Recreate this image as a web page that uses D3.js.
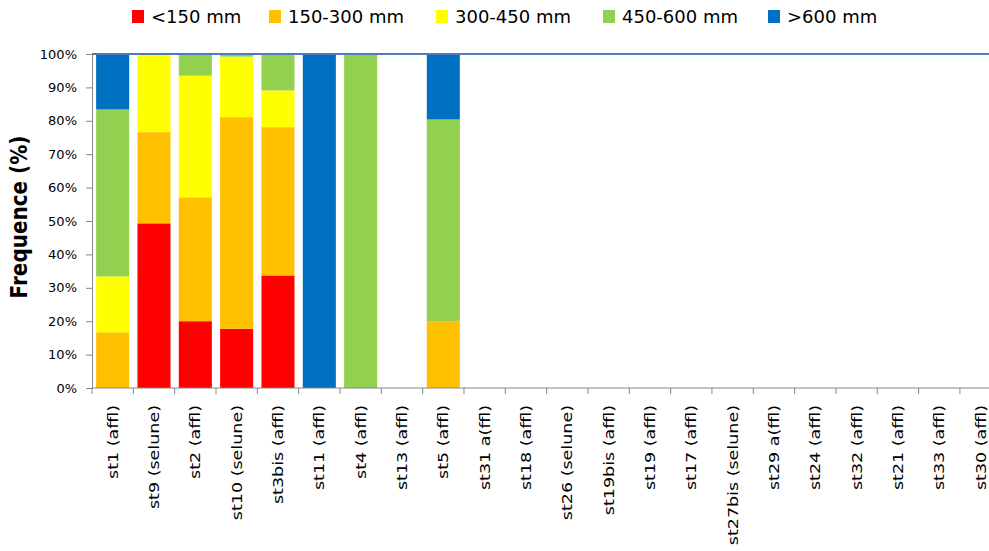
<!DOCTYPE html>
<html>
<head>
<meta charset="utf-8">
<script src="https://cdn.jsdelivr.net/npm/d3@7/dist/d3.min.js"></script>
<style>
  html, body { margin: 0; padding: 0; background: #fff; }
  svg { display: block; font-family: "DejaVu Sans", sans-serif; }
</style>
</head>
<body>
<svg id="chart" width="989" height="551"></svg>
<script>
// Stations (x axis)
const categories = [
  "st1 (affl)", "st9 (selune)", "st2 (affl)", "st10 (selune)", "st3bis (affl)",
  "st11 (affl)", "st4 (affl)", "st13 (affl)", "st5 (affl)", "st31 a(ffl)",
  "st18 (affl)", "st26 (selune)", "st19bis (affl)", "st19 (affl)", "st17 (affl)",
  "st27bis (selune)", "st29 a(ffl)", "st24 (affl)", "st32 (affl)", "st21 (affl)",
  "st33 (affl)", "st30 (affl)"
];

// Size classes
const seriesNames = ["<150 mm", "150-300 mm", "300-450 mm", "450-600 mm", ">600 mm"];
const seriesColors = ["#FF0000", "#FFC000", "#FFFF00", "#92D050", "#0070C0"];

// Frequency (%) per class and station
const lt150    = [0,    49.3, 20.0, 17.7, 33.7, 0,   0,   0, 0,    0,0,0,0,0,0,0,0,0,0,0,0,0];
const s150_300 = [16.7, 27.3, 37.1, 63.4, 44.4, 0,   0,   0, 20.0, 0,0,0,0,0,0,0,0,0,0,0,0,0];
const s300_450 = [16.7, 23.4, 36.4, 18.1, 11.0, 0,   0,   0, 0,    0,0,0,0,0,0,0,0,0,0,0,0,0];
const s450_600 = [50.0, 0,    6.5,  0.8,  10.9, 0,   100, 0, 60.4, 0,0,0,0,0,0,0,0,0,0,0,0,0];
const gt600    = [16.6, 0,    0,    0,    0,    100, 0,   0, 19.6, 0,0,0,0,0,0,0,0,0,0,0,0,0];

const yTicks = [0, 10, 20, 30, 40, 50, 60, 70, 80, 90, 100];

const seriesValues = [lt150, s150_300, s300_450, s450_600, gt600];
const rows = categories.map((c, i) => {
  const r = { cat: c };
  seriesNames.forEach((s, k) => { r[s] = seriesValues[k][i]; });
  return r;
});

const svg = d3.select("#chart");
const plotLeft = 92, plotTop = 54, plotBottom = 388;
const step = 41.33;
const plotRight = plotLeft + step * categories.length;

const x = d3.scaleBand()
  .domain(categories)
  .range([plotLeft, plotRight])
  .paddingInner(0.2)
  .paddingOuter(0.1);

const y = d3.scaleLinear().domain([0, 100]).range([plotBottom, plotTop]);
const color = d3.scaleOrdinal().domain(seriesNames).range(seriesColors);

const stacked = d3.stack().keys(seriesNames)(rows);

// Bars
svg.append("g").selectAll("g")
  .data(stacked)
  .join("g")
  .attr("fill", d => color(d.key))
  .selectAll("rect")
  .data(d => d.filter(p => p[1] - p[0] > 0))
  .join("rect")
  .attr("x", d => x(d.data.cat))
  .attr("width", x.bandwidth())
  .attr("y", d => y(d[1]))
  .attr("height", d => y(d[0]) - y(d[1]));

// 100% line
svg.append("line")
  .attr("x1", plotLeft).attr("x2", plotRight)
  .attr("y1", y(100)).attr("y2", y(100))
  .attr("stroke", "#4A7EBB").attr("stroke-width", 2);

// Y axis
const yAxis = svg.append("g")
  .attr("transform", `translate(${plotLeft},0)`)
  .call(d3.axisLeft(y).tickValues(yTicks).tickFormat(d => d + "%").tickSize(6).tickPadding(9));
yAxis.select(".domain").attr("stroke", "#868686");
yAxis.selectAll(".tick line").attr("stroke", "#868686");
yAxis.selectAll(".tick text")
  .attr("font-family", "DejaVu Sans")
  .attr("font-size", 13)
  .attr("fill", "#000");

// X axis line and boundary ticks
svg.append("line")
  .attr("x1", plotLeft).attr("x2", plotRight)
  .attr("y1", plotBottom).attr("y2", plotBottom)
  .attr("stroke", "#868686");

const bounds = categories.map(c => x(c) - x.step() * x.paddingInner() / 2);
bounds.push(plotRight);
svg.append("g").selectAll("line")
  .data(bounds)
  .join("line")
  .attr("x1", d => d).attr("x2", d => d)
  .attr("y1", plotBottom).attr("y2", plotBottom + 6)
  .attr("stroke", "#868686");

// X labels (rotated, glyphs slightly condensed across the band)
svg.append("g").selectAll("text")
  .data(categories)
  .join("text")
  .attr("transform", d => `translate(${x(d) + x.bandwidth() / 2},${plotBottom + 17}) rotate(-90) scale(1,0.82)`)
  .attr("text-anchor", "end")
  .attr("dy", "0.35em")
  .attr("font-size", 17.5)
  .attr("fill", "#000")
  .text(d => d);

// Y title
svg.append("text")
  .attr("transform", `translate(27,${(plotTop + plotBottom) / 2 - 4}) scale(1.15,1) rotate(-90)`)
  .attr("text-anchor", "middle")
  .attr("font-size", 20)
  .attr("font-weight", "bold")
  .attr("fill", "#000")
  .text("Frequence (%)");

// Legend
const legendX = [132, 269, 436, 603, 768];
const legend = svg.append("g").selectAll("g")
  .data(seriesNames)
  .join("g")
  .attr("transform", (d, i) => `translate(${legendX[i]},10)`);
legend.append("rect")
  .attr("width", 12).attr("height", 13)
  .attr("fill", d => color(d));
legend.append("text")
  .attr("x", 19).attr("y", 7)
  .attr("dy", "0.35em")
  .attr("font-size", 18)
  .attr("fill", "#000")
  .text(d => d);
</script>
</body>
</html>
